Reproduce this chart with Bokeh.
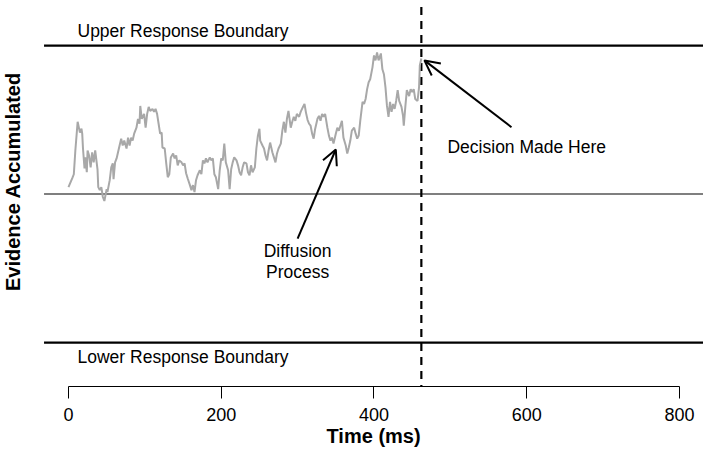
import math
from bokeh.plotting import figure
from bokeh.models import (Range1d, LinearAxis, FixedTicker, Arrow, OpenHead,
                          Label, ColumnDataSource, Title)
from bokeh.embed import file_html
from bokeh.resources import INLINE

# ---------------- data ----------------
boundary = 150            # response boundary (evidence units), start point = 0
decision_time = 462       # ms

time_ms = [0, 5, 7, 9, 12, 15, 17, 18, 19, 21, 22, 24, 25, 27, 29, 31, 33, 35, 38, 39,
           41, 43, 45, 47, 50, 51, 54, 56, 58, 59, 61, 63, 66, 69, 71, 73, 76, 78, 80, 82,
           84, 86, 89, 91, 93, 94, 96, 99, 101, 103, 105, 107, 110, 112, 114, 116, 118, 120, 122, 123,
           126, 128, 130, 132, 134, 137, 139, 141, 143, 145, 148, 150, 152, 154, 156, 159, 161, 163, 165, 167,
           169, 172, 174, 176, 178, 180, 182, 185, 187, 189, 191, 193, 196, 198, 200, 202, 204, 206, 209, 211,
           213, 215, 217, 220, 222, 224, 226, 228, 230, 233, 235, 237, 239, 241, 244, 246, 248, 250, 251, 254,
           256, 258, 260, 262, 264, 267, 269, 271, 273, 275, 278, 280, 282, 284, 286, 288, 291, 293, 295, 297,
           299, 302, 304, 307, 309, 311, 313, 315, 317, 319, 321, 323, 326, 328, 330, 332, 334, 336, 339, 341,
           343, 345, 347, 350, 352, 354, 356, 358, 360, 363, 365, 367, 369, 371, 374, 376, 378, 380, 382, 385,
           387, 389, 391, 393, 395, 398, 400, 402, 404, 406, 409, 411, 413, 415, 417, 419, 421, 423, 425, 427,
           429, 431, 433, 436, 438, 439, 441, 443, 446, 448, 450, 452, 454, 457, 459, 460, 462]

evidence = [7, 16, 20, 44, 73, 62, 66, 61, 46, 26, 37, 22, 44, 39, 27, 42, 32, 44, 25, 7,
            4, 7, -3, -7, 5, 2, 14, 27, 31, 15, 32, 36, 46, 56, 49, 54, 46, 57, 49, 57,
            54, 61, 67, 76, 71, 89, 76, 81, 67, 81, 88, 84, 86, 83, 86, 81, 71, 61, 62, 47,
            46, 31, 17, 20, 37, 41, 36, 39, 29, 34, 32, 29, 31, 21, 16, 9, 4, 9, 2, 14,
            19, 24, 20, 34, 31, 36, 32, 37, 34, 36, 20, 17, 5, 24, 36, 34, 51, 32, 24, 5,
            25, 32, 37, 34, 29, 22, 19, 27, 32, 31, 22, 19, 29, 22, 27, 46, 59, 66, 54, 49,
            46, 39, 34, 44, 52, 42, 37, 32, 41, 46, 51, 64, 73, 62, 76, 84, 67, 73, 78, 74,
            81, 78, 83, 88, 91, 82, 75, 71, 69, 61, 56, 66, 76, 79, 74, 81, 78, 81, 67, 59,
            54, 57, 51, 61, 67, 64, 69, 74, 57, 49, 41, 47, 54, 64, 67, 61, 56, 59, 74, 93,
            91, 96, 106, 113, 116, 128, 140, 135, 143, 135, 142, 126, 121, 108, 89, 78, 93, 83, 91, 86,
            94, 105, 94, 88, 79, 69, 88, 105, 99, 106, 103, 106, 96, 94, 108, 130, 137]

x_ticks = [0, 200, 400, 600, 800]

# extent of the original plotting region (reference lines span it)
region_x = (-32, 832)
region_y = (-195, 195)

# annotation arrows: (x_start, y_start, x_end, y_end)
diffusion_arrow = (300, -45, 350, 45)
decision_arrow = (580, 67.5, 466, 135)

FONT = "Liberation Sans"

p = figure(width=703, height=454,
           x_range=Range1d(-89.0, 831.4), y_range=Range1d(-194.4, 195.5),
           output_backend="svg", toolbar_location=None,
           x_axis_type=None, y_axis_type=None,
           min_border_left=0, min_border_right=0, min_border_top=0, min_border_bottom=68)
p.outline_line_color = None
p.xgrid.visible = False
p.ygrid.visible = False
p.background_fill_color = "white"
p.border_fill_color = "white"

# boundaries and starting point
x0, x1 = region_x
p.segment(x0=[x0, x0], y0=[boundary, -boundary], x1=[x1, x1], y1=[boundary, -boundary],
          line_color="black", line_width=2.2)
p.segment(x0=[x0], y0=[0], x1=[x1], y1=[0], line_color="black", line_width=1.1)
# decision time
p.segment(x0=[decision_time], y0=[region_y[1]], x1=[decision_time], y1=[region_y[0]],
          line_color="black", line_width=2.2, line_dash="8 6", line_dash_offset=8)

# diffusion path
src = ColumnDataSource(dict(t=time_ms, e=evidence))
p.line("t", "e", source=src, line_color="#a8a8a8", line_width=2)

# x axis
ax = LinearAxis(ticker=FixedTicker(ticks=x_ticks), bounds=(0, 800))
ax.axis_line_color = "black"
ax.axis_line_width = 1
ax.major_tick_out = 12
ax.major_tick_in = 0
ax.minor_tick_out = 0
ax.minor_tick_in = 0
ax.major_label_standoff = 9
ax.major_label_text_font = FONT
ax.major_label_text_font_size = "18px"
ax.major_label_text_color = "black"
p.add_layout(ax, "below")

# x-axis title, centred under the 0-800 axis
p.add_layout(Title(text="Time (ms)", align="left", offset=326, vertical_align="top",
                   standoff=2, text_font=FONT, text_font_size="20px",
                   text_font_style="bold", text_color="black"), "below")

# arrows
for (xs, ys, xe, ye) in (diffusion_arrow, decision_arrow):
    p.add_layout(Arrow(end=OpenHead(size=15, line_width=2, line_color="black"),
                       x_start=xs, y_start=ys, x_end=xe, y_end=ye,
                       line_width=2, line_color="black"))

def lab(x, y, text, size="17.5px", bold=False, angle=0.0):
    p.add_layout(Label(x=x, y=y, text=text, text_font=FONT, text_font_size=size,
                       text_font_style="bold" if bold else "normal",
                       text_align="center", text_baseline="middle",
                       text_color="black", angle=angle))

lab(150, 165, "Upper Response Boundary")
lab(150, -165, "Lower Response Boundary")
lab(600, 48, "Decision Made Here")
lab(300, -58, "Diffusion")
lab(300, -79, "Process")
lab(-72, 12.6, "Evidence Accumulated", size="20px", bold=True, angle=math.pi / 2)

open("out.html", "w").write(file_html(p, INLINE))
